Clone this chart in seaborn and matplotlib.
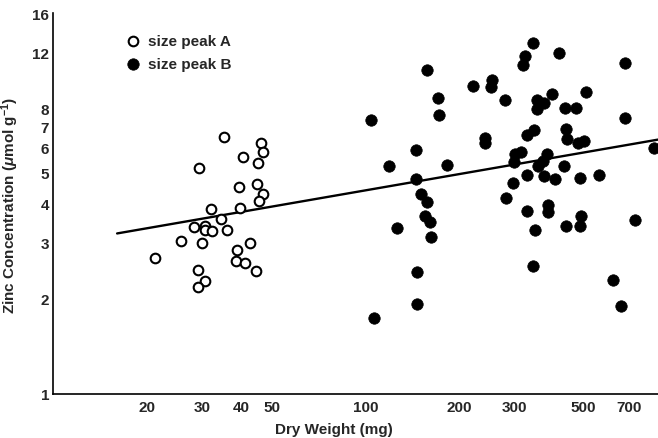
import matplotlib
matplotlib.use('agg')
import matplotlib.pyplot as plt
import seaborn as sns
import numpy as np
from matplotlib.ticker import FixedLocator, NullLocator, FixedFormatter

# size peak A (open circles): dry weight (mg), zinc (umol/g)
peak_a_weight = [35.3, 46.3, 46.9, 40.6, 45.4, 29.3, 39.4, 44.8, 46.9, 45.5,
                 31.9, 39.7, 34.5, 28.2, 30.7, 30.5, 32.2, 36.1, 25.6, 30.0,
                 42.7, 38.8, 21.1, 38.5, 41.1, 44.5, 29.0, 30.7, 29.1]
peak_a_zinc = [6.50, 6.21, 5.82, 5.60, 5.38, 5.17, 4.50, 4.60, 4.28, 4.06,
               3.83, 3.86, 3.57, 3.37, 3.40, 3.29, 3.27, 3.28, 3.03, 2.99,
               2.99, 2.85, 2.68, 2.62, 2.59, 2.45, 2.46, 2.27, 2.17]

# size peak B (filled circles)
peak_b_weight = [343.7, 324.8, 319.3, 417.4, 677.8, 157.5, 254.5, 252.1, 221.2, 280.2,
                 170.5, 171.8, 104.4, 354.0, 372.8, 354.0, 397.2, 509.4, 435.4, 472.1,
                 680.8, 347.0, 330.3, 440.6, 442.9, 481.3, 503.0, 843.4, 241.2, 242.3,
                 145.3, 119.3, 183.0, 145.3, 302.2, 315.1, 300.0, 381.1, 371.7, 357.5,
                 433.1, 329.5, 374.4, 405.3, 487.3, 562.0, 297.9, 281.6, 150.7, 157.9,
                 330.3, 383.9, 385.6, 492.0, 733.0, 155.6, 161.1, 161.9, 126.0, 146.7,
                 146.7, 106.6, 349.6, 345.2, 438.5, 487.3, 620.2, 659.5]
peak_b_zinc = [12.83, 11.72, 10.95, 11.95, 11.09, 10.54, 9.84, 9.33, 9.38, 8.51,
               8.61, 7.59, 7.34, 8.47, 8.31, 7.95, 8.85, 9.00, 7.99, 7.99,
               7.44, 6.84, 6.58, 6.86, 6.39, 6.20, 6.31, 5.99, 6.42, 6.20,
               5.90, 5.26, 5.27, 4.77, 5.73, 5.81, 5.39, 5.73, 5.45, 5.26,
               5.24, 4.92, 4.89, 4.77, 4.81, 4.92, 4.65, 4.17, 4.28, 4.05,
               3.78, 3.96, 3.74, 3.65, 3.53, 3.65, 3.48, 3.12, 3.35, 2.43,
               1.92, 1.73, 3.30, 2.54, 3.38, 3.38, 2.29, 1.89]

# regression line end points
fit_weight = [16, 866]
fit_zinc = [3.21, 6.36]

x_ticks = [20, 30, 40, 50, 100, 200, 300, 400, 500, 600, 700]
x_labels = ['20', '30', '40', '50', '100', '200', '300', '', '500', '', '700']
y_ticks = [1, 2, 3, 4, 5, 6, 7, 8, 12, 16]

sns.set_style("white")
plt.rcParams['font.family'] = ['Liberation Sans', 'DejaVu Sans']
plt.rcParams['font.weight'] = 'bold'
plt.rcParams['mathtext.fontset'] = 'custom'
plt.rcParams['mathtext.rm'] = 'Liberation Sans:bold'
plt.rcParams['mathtext.it'] = 'Liberation Sans:italic:bold'

fig = plt.figure(figsize=(6.58, 4.39), dpi=100)
ax = fig.add_axes([53.4 / 658, 44.5 / 439, (658 - 53.4) / 658, (394.5 - 14) / 439])

sns.lineplot(x=fit_weight, y=fit_zinc, ax=ax, color='black', linewidth=1.7, zorder=2)
sns.scatterplot(x=peak_a_weight, y=peak_a_zinc, ax=ax, s=48, color='white',
                edgecolor='black', linewidth=1.5, label='size peak A', zorder=3)
sns.scatterplot(x=peak_b_weight, y=peak_b_zinc, ax=ax, s=68, color='black',
                edgecolor='black', linewidth=0.5, label='size peak B', zorder=3)

ax.set_xscale('log')
ax.set_yscale('log')
ax.set_xlim(10, 866)
ax.set_ylim(1, 16)

ax.xaxis.set_major_locator(FixedLocator(x_ticks))
ax.xaxis.set_major_formatter(FixedFormatter(x_labels))
ax.xaxis.set_minor_locator(NullLocator())
ax.yaxis.set_major_locator(FixedLocator(y_ticks))
ax.yaxis.set_major_formatter(FixedFormatter([str(v) for v in y_ticks]))
ax.yaxis.set_minor_locator(NullLocator())

ax.tick_params(axis='x', direction='in', length=5, width=1.1, pad=5, labelsize=11)
ax.tick_params(axis='y', direction='in', length=4, width=1.1, pad=3, labelsize=11)

for side in ['top', 'right']:
    ax.spines[side].set_visible(False)
for side in ['left', 'bottom']:
    ax.spines[side].set_linewidth(1.2)
    ax.spines[side].set_color('black')

ax.set_xlabel('Dry Weight (mg)', fontsize=11, fontweight='bold')
ax.set_ylabel('Zinc Concentration ($\\mu$mol g$^{-1}$)', fontsize=11, fontweight='bold')
ax.xaxis.set_label_coords(0.464, -0.075)
ax.yaxis.set_label_coords(-0.054, 0.498)

ax.legend(loc='upper left', bbox_to_anchor=(0.119, 0.945), frameon=False,
          prop={'size': 11, 'weight': 'bold'}, handlelength=1.0, handletextpad=0.5,
          borderpad=0, borderaxespad=0, labelspacing=0.6)

fig.savefig('out.png', dpi=100)
plt.close(fig)
